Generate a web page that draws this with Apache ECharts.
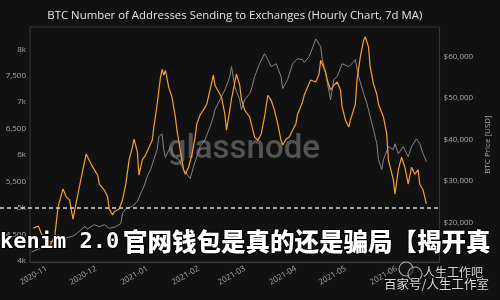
<!DOCTYPE html>
<html>
<head>
<meta charset="utf-8">
<script src="https://cdn.jsdelivr.net/npm/echarts@6/dist/echarts.min.js"></script>
<style>
html,body{margin:0;padding:0;background:#111111;}
#chart{width:500px;height:300px;}
</style>
</head>
<body>
<div id="chart"></div>
<script>
// ---- data ----
const titleText = 'BTC Number of Addresses Sending to Exchanges (Hourly Chart, 7d MA)';
const monthTicks = ['2020-11-01','2020-12-01','2021-01-01','2021-02-01','2021-03-01','2021-04-01','2021-05-01','2021-06-01'];
const leftTicks = [4000,4500,5000,5500,6000,6500,7000,7500,8000];
const rightTicks = [20000,30000,40000,50000,60000];
const refLevel = 5000;

const addrDates = ['2020-10-24','2020-10-27','2020-10-29','2020-11-01','2020-11-03','2020-11-06','2020-11-08','2020-11-11','2020-11-13','2020-11-15','2020-11-17','2020-11-20','2020-11-23','2020-11-25','2020-11-28','2020-11-30','2020-12-02','2020-12-03','2020-12-06','2020-12-08','2020-12-09','2020-12-11','2020-12-12','2020-12-15','2020-12-17','2020-12-19','2020-12-21','2020-12-23','2020-12-24','2020-12-26','2020-12-27','2020-12-29','2020-12-31','2021-01-01','2021-01-04','2021-01-05','2021-01-07','2021-01-09','2021-01-10','2021-01-11','2021-01-12','2021-01-14','2021-01-16','2021-01-18','2021-01-19','2021-01-21','2021-01-23','2021-01-24','2021-01-26','2021-01-28','2021-01-30','2021-01-31','2021-02-02','2021-02-04','2021-02-06','2021-02-08','2021-02-10','2021-02-11','2021-02-14','2021-02-15','2021-02-17','2021-02-18','2021-02-20','2021-02-21','2021-02-24','2021-02-26','2021-02-27','2021-03-01','2021-03-04','2021-03-05','2021-03-07','2021-03-09','2021-03-11','2021-03-13','2021-03-15','2021-03-17','2021-03-19','2021-03-21','2021-03-23','2021-03-24','2021-03-26','2021-03-28','2021-03-30','2021-04-01','2021-04-02','2021-04-05','2021-04-06','2021-04-08','2021-04-10','2021-04-13','2021-04-15','2021-04-16','2021-04-17','2021-04-19','2021-04-20','2021-04-22','2021-04-24','2021-04-26','2021-04-28','2021-04-29','2021-05-01','2021-05-03','2021-05-04','2021-05-07','2021-05-08','2021-05-10','2021-05-12','2021-05-13','2021-05-15','2021-05-16','2021-05-18','2021-05-20','2021-05-21','2021-05-24','2021-05-26','2021-05-27','2021-05-30','2021-05-31','2021-06-02','2021-06-04','2021-06-06','2021-06-08','2021-06-10','2021-06-12','2021-06-14','2021-06-15','2021-06-17','2021-06-19'];
const addrValues = [4620,4660,4510,4320,4280,4470,5020,5360,5210,5150,4790,5260,5720,6020,5830,5720,5620,5450,5340,5210,4980,4870,4930,4980,5150,5450,5910,6150,6300,6060,5620,5910,6000,6020,6280,6530,6960,7470,7620,7510,7600,7280,7090,6720,6470,6090,5720,5640,5770,6000,6340,6590,6760,6850,6960,7230,7510,7320,7150,7090,6770,6470,6850,7060,7530,7320,7060,6850,6720,6590,6340,6280,6400,6720,7130,7040,6850,6590,6280,6190,6300,6340,6470,6590,6770,7000,7130,7280,7420,7380,7530,7790,7810,7570,7420,7230,7320,7380,7230,6910,6660,6530,6660,6960,7420,7850,8170,8230,8040,7660,7340,7150,6960,6720,6400,5910,5530,5260,5720,5960,5770,5450,5770,5640,5720,5450,5340,5080];

const priceDates = ['2020-10-23','2020-10-27','2020-10-31','2020-11-03','2020-11-10','2020-11-14','2020-11-18','2020-11-24','2020-11-26','2020-11-30','2020-12-03','2020-12-06','2020-12-09','2020-12-13','2020-12-16','2020-12-17','2020-12-19','2020-12-23','2020-12-26','2020-12-28','2020-12-30','2021-01-01','2021-01-03','2021-01-05','2021-01-07','2021-01-08','2021-01-10','2021-01-11','2021-01-12','2021-01-15','2021-01-17','2021-01-20','2021-01-23','2021-01-27','2021-01-29','2021-01-31','2021-02-02','2021-02-05','2021-02-08','2021-02-10','2021-02-11','2021-02-14','2021-02-17','2021-02-20','2021-02-21','2021-02-23','2021-02-26','2021-02-27','2021-03-01','2021-03-04','2021-03-05','2021-03-07','2021-03-10','2021-03-13','2021-03-15','2021-03-17','2021-03-20','2021-03-23','2021-03-24','2021-03-27','2021-03-30','2021-04-02','2021-04-05','2021-04-06','2021-04-09','2021-04-12','2021-04-13','2021-04-16','2021-04-17','2021-04-19','2021-04-22','2021-04-24','2021-04-26','2021-04-29','2021-05-03','2021-05-05','2021-05-07','2021-05-09','2021-05-12','2021-05-14','2021-05-16','2021-05-18','2021-05-20','2021-05-21','2021-05-23','2021-05-24','2021-05-27','2021-05-30','2021-05-31','2021-06-02','2021-06-05','2021-06-08','2021-06-10','2021-06-13','2021-06-15','2021-06-17','2021-06-19'];
const priceValues = [12900,13600,14200,15400,15900,16400,16900,19000,18500,19500,19000,19500,18600,19000,19800,22200,23400,23900,25100,27000,28700,31100,32800,35200,37600,40700,41400,37600,35700,38300,35900,35200,32800,30600,33500,35900,38300,40000,43100,45500,47200,49600,52000,55200,57600,52800,49600,47200,49600,51100,52000,55200,58300,60700,59300,57600,58300,55200,52300,54500,58300,59500,59300,58600,60000,63100,64300,62400,59300,55900,49600,54500,55200,58300,57600,58300,59300,55200,51100,48700,45500,42400,39000,35200,32800,35200,38300,37600,39000,36600,38300,35900,38300,40200,39000,36600,34700];

const xStart = '2020-10-22';
const xEnd = '2021-06-27';

// ---- helpers ----
function ts(s){ const p = s.split('-').map(Number); return Date.UTC(p[0], p[1]-1, p[2]); }
function pad(n){ return (n<10?'0':'') + n; }
function fmtLeft(v){
  if (v % 1000 === 0) return (v/1000) + 'k';
  return v.toLocaleString('en-US');
}

const chart = echarts.init(document.getElementById('chart'), null, {renderer:'canvas'});
const labelColor = '#a8a8a8';
const option = {
  backgroundColor: '#111111',
  animation: false,
  grid: {left: 30, right: 48, top: 27, bottom: 38, show: true, borderColor: '#3a3a3a', borderWidth: 1, backgroundColor: 'transparent'},
  xAxis: {
    type: 'value', min: ts(xStart), max: ts(xEnd),
    axisLine: {show: true, lineStyle: {color: '#3a3a3a'}},
    axisTick: {show: false},
    splitLine: {show: false},
    axisLabel: {
      customValues: monthTicks.map(ts),
      rotate: 30, margin: 6, color: labelColor, fontSize: 8, fontFamily: '"Open Sans", sans-serif',
      hideOverlap: false,
      formatter: function(v){ const d = new Date(v); return d.getUTCFullYear() + '-' + pad(d.getUTCMonth()+1); }
    }
  },
  yAxis: [{
    type: 'value', min: 3980, max: 8420, position: 'left',
    axisLine: {show: false}, axisTick: {show: false}, splitLine: {show: false},
    axisLabel: {customValues: leftTicks, color: labelColor, fontSize: 8, margin: 4, fontFamily: '"Open Sans", sans-serif', formatter: fmtLeft}
  },{
    type: 'value', min: 10500, max: 67150, position: 'right',
    name: 'BTC Price [USD]', nameLocation: 'middle', nameGap: 33, nameRotate: 90,
    nameTextStyle: {color: labelColor, fontSize: 8, fontFamily: '"Open Sans", sans-serif'},
    axisLine: {show: false}, axisTick: {show: false}, splitLine: {show: false},
    axisLabel: {customValues: rightTicks, color: labelColor, fontSize: 8, margin: 4, fontFamily: '"Open Sans", sans-serif',
      formatter: function(v){ return '$' + v.toLocaleString('en-US'); }}
  }],
  series: [{
    name: 'BTC Price', type: 'line', yAxisIndex: 1, showSymbol: false, z: 3,
    data: priceDates.map((d,i)=>[ts(d), priceValues[i]]),
    lineStyle: {color: '#858585', width: 1}
  },{
    name: 'Addresses', type: 'line', yAxisIndex: 0, showSymbol: false, z: 4,
    data: addrDates.map((d,i)=>[ts(d), addrValues[i]]),
    lineStyle: {color: '#f5a132', width: 1.2}
  }]
};
chart.setOption(option);

// decorations positioned through the chart's own scales
const yRef = chart.convertToPixel({yAxisIndex: 0}, refLevel);
const xLeft = chart.convertToPixel({xAxisIndex: 0}, ts(xStart));
const xRight = chart.convertToPixel({xAxisIndex: 0}, ts(xEnd));
const midX = (xLeft + xRight) / 2;
const midY = chart.convertToPixel({yAxisIndex: 0}, (3980+8420)/2);
chart.setOption({
  graphic: [
    {type: 'text', z: 60, x: midX, y: 16,
      style: {text: titleText, fill: '#e4e4e4', font: '11.4px "Open Sans", sans-serif', textAlign: 'center', textVerticalAlign: 'middle'}},
    {type: 'text', z: 1, x: midX + 9, y: midY + 5,
      style: {text: 'glassnode', fill: 'rgba(120,120,120,0.65)', font: '500 33px Roboto, "Open Sans", sans-serif', textAlign: 'center', textVerticalAlign: 'middle'}},
    {type: 'line', z: 50, shape: {x1: 0, y1: yRef, x2: xRight, y2: yRef},
      style: {stroke: '#d8d8d8', lineWidth: 1.5, lineDash: [4, 3]}},
    {type: 'text', z: 60, x: 0, y: 242,
      style: {text: 'kenim 2.0', fill: '#ffffff', stroke: '#000000', lineWidth: 2, font: 'bold 22px "DejaVu Sans Mono", monospace', textAlign: 'left', textVerticalAlign: 'middle'}},
    {type: 'text', z: 60, x: 123, y: 242,
      style: {text: '官网钱包是真的还是骗局【揭开真', fill: '#ffffff', stroke: '#000000', lineWidth: 2, font: '900 24.5px "Noto Sans CJK SC", sans-serif', textAlign: 'left', textVerticalAlign: 'middle'}},
    {type: 'circle', z: 55, shape: {cx: 406, cy: 269, r: 7}, style: {fill: 'rgba(20,20,20,0.5)', stroke: 'rgba(210,210,210,0.75)', lineWidth: 1.2}},
    {type: 'circle', z: 56, shape: {cx: 415, cy: 274, r: 7}, style: {fill: 'rgba(20,20,20,0.6)', stroke: 'rgba(210,210,210,0.75)', lineWidth: 1.2}},
    {type: 'text', z: 60, x: 423, y: 272,
      style: {text: '人生工作吧', fill: 'rgba(240,240,240,0.9)', stroke: 'rgba(0,0,0,0.6)', lineWidth: 1.5, font: '12px "Noto Sans CJK SC", sans-serif', textAlign: 'left', textVerticalAlign: 'middle'}},
    {type: 'text', z: 60, x: 384, y: 284,
      style: {text: '百家号/人生工作室', fill: 'rgba(240,240,240,0.9)', stroke: 'rgba(0,0,0,0.6)', lineWidth: 1.5, font: '12.5px "Noto Sans CJK SC", sans-serif', textAlign: 'left', textVerticalAlign: 'middle'}}
  ]
});
</script>
</body>
</html>
